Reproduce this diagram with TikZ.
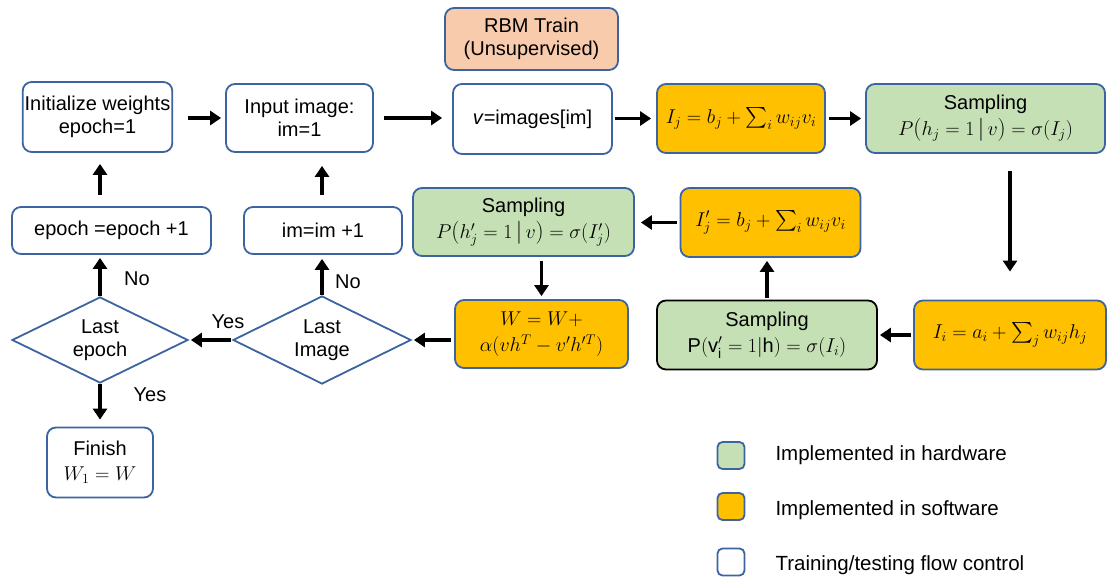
\RequirePackage{fix-cm}
\documentclass[tikz,border=0pt]{standalone}
\usepackage{amsmath}
\usepackage{fontspec}
\setmainfont{Liberation Sans}
\usetikzlibrary{shapes.geometric,arrows.meta,calc}
\definecolor{bblue}{HTML}{3B64A0}
\definecolor{hwgreen}{HTML}{C5E0B4}
\definecolor{swor}{HTML}{FFC000}
\definecolor{peach}{HTML}{F8CBAD}
\newcommand\myfs{\fontsize{20}{23}\selectfont}
\newcommand\mylfs{\fontsize{20.5}{22}\selectfont}
\newcommand\bop{\mathopen{\hbox{\fontsize{23}{23}\selectfont$($}}}
\newcommand\bcl{\mathclose{\hbox{\fontsize{23}{23}\selectfont$)$}}}
\newcommand\bbar{\mathord{\hbox{\fontsize{23}{23}\selectfont$|$}}}
\tikzset{
  box/.style={draw=bblue, line width=1.8pt, rounded corners=9pt, align=center, font=\myfs, inner sep=2pt, anchor=center},
  hw/.style={box, fill=hwgreen},
  sw/.style={box, fill=swor},
  dec/.style={diamond, draw=bblue, line width=1.8pt, aspect=2, inner sep=0pt, align=center, font=\myfs},
  arr/.style={line width=3.3pt, -{Triangle[length=11pt,width=14pt]}},
  lbl/.style={font=\myfs},
  legbox/.style={draw=bblue, line width=1.8pt, rounded corners=5pt, minimum width=27pt, minimum height=27pt, inner sep=0pt},
  legtxt/.style={font=\mylfs, anchor=west}
}
\begin{document}
\begin{tikzpicture}[x=1pt,y=-1pt]
\useasboundingbox (0,0) rectangle (1107,578);
% top row
\node[box, fill=peach, minimum width=173pt, minimum height=62pt] (rbm) at (531.5,39) {RBM Train\\(Unsupervised)};
\node[box, minimum width=145pt, minimum height=70pt] (init) at (97.5,117) {Initialize weights\\epoch=1};
\node[box, minimum width=147pt, minimum height=68pt] (input) at (299.5,118) {Input image:\\im=1};
\node[box, minimum width=159pt, minimum height=70pt] (vimg) at (532.5,119) {\textit{v}=images[im]};
\node[sw, minimum width=168pt, minimum height=69pt] (Ij) at (741,118.5) {$I_j = b_j + \sum_i w_{ij} v_i$};
\node[hw, minimum width=239pt, minimum height=69pt] (s1) at (985.5,118.5) {Sampling\\[3pt]$P\bop h_j = 1\,\bbar\, v\bcl = \sigma(I_j)$};
% middle row
\node[box, minimum width=199pt, minimum height=47pt] (einc) at (111.5,230.5) {epoch =epoch +1};
\node[box, minimum width=158pt, minimum height=47pt] (iinc) at (323,230.5) {im=im +1};
\node[hw, minimum width=221pt, minimum height=68pt] (s2) at (523.5,222) {Sampling\\[3pt]$P\bop h_j' = 1\,\bbar\, v\bcl = \sigma(I_j')$};
\node[sw, minimum width=180pt, minimum height=69pt] (Ijp) at (770.5,222.5) {$I_j' = b_j + \sum_i w_{ij} v_i$};
% lower row
\node[sw, minimum width=173pt, minimum height=68pt] (W) at (541.5,334) {$W = W +$\\[3pt]$\alpha(vh^T - v'h'^T)$};
\node[hw, draw=black, minimum width=220pt, minimum height=69pt] (s3) at (767,335) {Sampling\\[3pt]$\mathrm{P}(\mathrm{v}_\mathrm{i}' = 1|\mathrm{h}) = \sigma(I_i)$};
\node[sw, minimum width=192pt, minimum height=69pt] (Ii) at (1010,335) {$I_i = a_i + \sum_j w_{ij} h_j$};
\node[dec, minimum width=176pt, minimum height=86pt] (lep) at (100,340) {Last\\epoch};
\node[dec, minimum width=178pt, minimum height=88pt] (lim) at (322,340) {Last\\Image};
\node[box, minimum width=106pt, minimum height=70pt] (fin) at (100,462.5) {Finish\\[2pt]$W_1 = W$};
% legend
\node[legbox, fill=hwgreen] (lg1) at (731,455.5) {};
\node[legbox, fill=swor] (lg2) at (731,506.5) {};
\node[legbox, fill=white] (lg3) at (731,562) {};
\node[legtxt] (lt1) at (772,455.5) {Implemented in hardware};
\node[legtxt] (lt2) at (772,510) {Implemented in software};
\node[legtxt] (lt3) at (772,565) {Training/testing flow control};
% arrows
\draw[arr, shorten <=15pt, shorten >=4pt] (init.east |- input.west) -- (input.west);
\draw[arr, shorten <=10pt, shorten >=10pt] (input.east) -- (vimg.west |- input.east);
\draw[arr, shorten <=2pt, shorten >=5pt] (vimg.east |- Ij.west) -- (Ij.west);
\draw[arr, shorten <=3pt, shorten >=4pt] (Ij.east) -- (s1.west);
\draw[arr, shorten <=17pt, shorten >=28pt] (s1.south -| Ii.north) -- (Ii.north);
\draw[arr, shorten <=2pt, shorten >=2pt] (Ii.west) -- (s3.east);
\draw[arr, shorten <=2pt, shorten >=3pt] (s3.north) -- (s3.north |- Ijp.south);
\draw[arr, shorten <=3pt, shorten >=6pt] (Ijp.west) -- (s2.east |- Ijp.west);
\draw[arr, shorten <=4pt, shorten >=3pt] (s2.south -| W.north) -- (W.north);
\draw[arr, shorten <=3pt, shorten >=2pt] (lim.east -| W.west) -- (lim.east);
\draw[arr, shorten <=1pt, shorten >=2pt] (lim.west) -- (lep.east);
\draw[arr, shorten >=4pt] (lim.north) -- (lim.north |- iinc.south);
\draw[arr, shorten <=11pt, shorten >=13pt] (lim.north |- iinc.north) -- (lim.north |- input.south);
\draw[arr, shorten >=3pt] (lep.north) -- (lep.north |- einc.south);
\draw[arr, shorten <=11pt, shorten >=11pt] (lep.north |- einc.north) -- (lep.north |- init.south);
\draw[arr, shorten >=7pt] (lep.south) -- (fin.north);
% labels
\node[lbl] (yes1) at (228,322) {Yes};
\node[lbl] (no1) at (348,282) {No};
\node[lbl] (no2) at (137,279) {No};
\node[lbl] (yes2) at (150,395) {Yes};
\end{tikzpicture}
\end{document}
